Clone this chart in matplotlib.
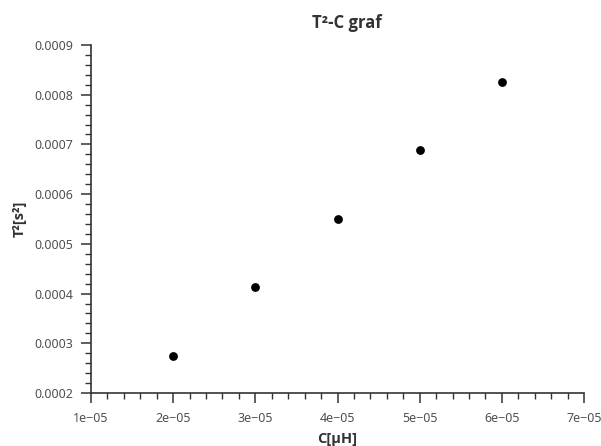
#!/usr/bin/env python3
"""T^2-C graf: scatter of period squared vs capacitance."""

import matplotlib

matplotlib.use("Agg")
import matplotlib.pyplot as plt  # noqa: E402
from matplotlib import font_manager  # noqa: E402
from matplotlib.ticker import AutoMinorLocator, MultipleLocator  # noqa: E402

C_VALUES = [2e-05, 3e-05, 4e-05, 5e-05, 6e-05]
T2_VALUES = [0.000275, 0.000413, 0.00055, 0.000688, 0.000825]

TITLE = "T²-C graf"
XLABEL = "C[μH]"
YLABEL = "T²[s²]"


def bold_family() -> str:
    # pick a family that actually ships a bold face
    for name in ("Noto Sans", "Open Sans", "Lato", "DejaVu Sans"):
        for f in font_manager.fontManager.ttflist:
            if f.name == name and f.weight in (700, "bold") and f.style == "normal":
                return name
    return "DejaVu Sans"


plt.rcParams["font.family"] = ["Noto Sans", "DejaVu Sans"]
BOLD = [bold_family(), "DejaVu Sans"]

fig = plt.figure(figsize=(6.01, 4.46), dpi=100)
ax = fig.add_axes([91 / 601, 1 - 393 / 446, (584 - 91) / 601, (393 - 45) / 446])

ax.scatter(C_VALUES, T2_VALUES, s=40, color="black", linewidths=0, zorder=3)

ax.set_xlim(1e-05, 7e-05)
ax.set_ylim(0.0002, 0.0009)
ax.xaxis.set_major_locator(MultipleLocator(1e-05))
ax.yaxis.set_major_locator(MultipleLocator(0.0001))
ax.xaxis.set_minor_locator(AutoMinorLocator(5))
ax.yaxis.set_minor_locator(AutoMinorLocator(5))
ax.xaxis.set_major_formatter(plt.FuncFormatter(lambda v, _: f"{v:.0e}".replace("-", "\u2212")))
ax.yaxis.set_major_formatter(plt.FuncFormatter(lambda v, _: f"{v:.4f}"))

for side in ("top", "right"):
    ax.spines[side].set_visible(False)
for side in ("left", "bottom"):
    ax.spines[side].set_color("#333333")
    ax.spines[side].set_linewidth(1.2)

ax.tick_params(which="major", length=7, width=1.1, color="#333333", labelsize=9, labelcolor="#505050")
ax.tick_params(which="minor", length=4, width=1.0, color="#333333")
ax.tick_params(axis="x", which="major", pad=6.5)
ax.tick_params(axis="y", which="major", pad=5.5)

ax.set_title(TITLE, fontsize=12, fontweight="bold", family=BOLD, color="#333333", pad=12, x=0.519)
ax.set_xlabel(XLABEL, fontsize=10.5, fontweight="bold", family=BOLD, color="#333333", labelpad=5)
ax.set_ylabel(YLABEL, fontsize=10.5, fontweight="bold", family=BOLD, color="#333333", labelpad=6)

fig.savefig("out.png", dpi=100)
